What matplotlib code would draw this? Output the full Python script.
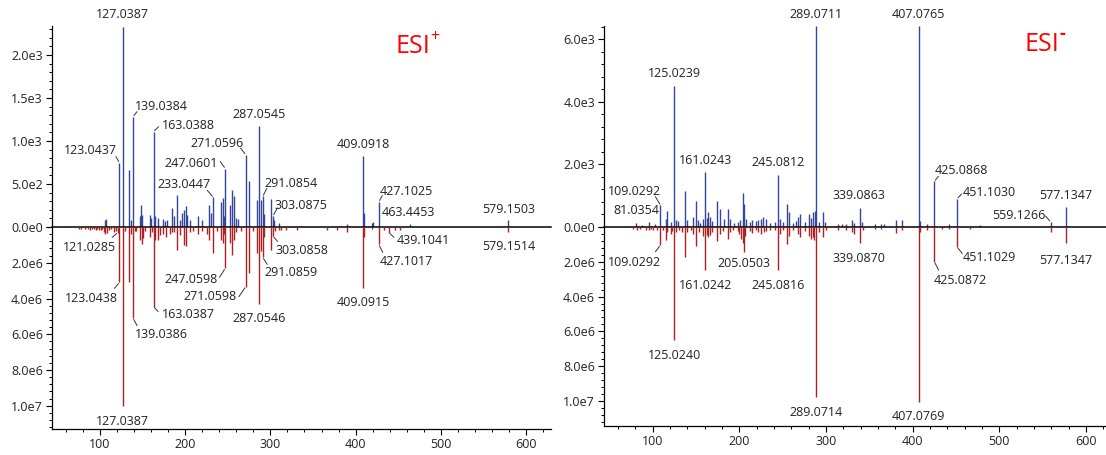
import numpy as np
import matplotlib
matplotlib.use("Agg")
import matplotlib.pyplot as plt
from matplotlib.ticker import MultipleLocator, FuncFormatter

plt.rcParams['font.family'] = ['Open Sans', 'DejaVu Sans']

# ---- ESI+ : sample (up, blue) vs reference (down, red) ----
pos_up_mz = [106.0, 107.6, 123.0437, 127.0387, 134.0, 136.6, 139.0384, 146.7, 148.7, 149.9,
             158.4, 160.4, 163.0388, 165.0, 167.7, 173.9, 176.6, 178.6, 185.2, 187.6,
             190.3, 194.2, 196.2, 198.9, 200.9, 202.1, 205.2, 214.6, 219.7, 227.5,
             229.9, 233.0447, 241.9, 245.0, 246.0, 247.0601, 253.1, 255.4, 257.4, 260.1,
             262.0, 271.0596, 275.1, 284.2, 287.0545, 288.7, 291.0854, 292.1, 301.1, 303.0875,
             304.1, 309.6, 389.7, 409.0918, 410.09, 418.8, 420.2, 427.1025, 463.4453, 579.1503]
pos_up_int = [80, 95, 748, 2330, 665, 85, 1283, 124, 260, 143,
              143, 105, 1108, 124, 105, 93, 66, 85, 221, 124,
              376, 85, 163, 201, 248, 143, 85, 132, 85, 260,
              163, 345, 287, 337, 124, 680, 260, 426, 357, 105,
              90, 840, 530, 310, 1178, 318, 355, 150, 330, 130,
              80, 47, 35, 826, 163, 47, 62, 294, 31, 81]

pos_dn_mz = [76.0, 78.0, 83.0, 86.0, 89.0, 91.0, 93.0, 95.0, 97.0, 99.0,
             101.0, 103.0, 105.0, 106.5, 108.0, 111.0, 113.0, 116.2, 119.0, 121.0285,
             123.0438, 127.0387, 129.0, 134.0, 136.6, 139.0386, 141.0, 143.0, 147.0, 149.1,
             150.6, 153.0, 158.4, 161.0, 163.0387, 165.0, 167.7, 170.5, 173.9, 177.6,
             182.0, 185.2, 187.6, 190.3, 194.2, 198.9, 201.3, 205.2, 209.0, 214.6,
             219.7, 225.5, 227.5, 233.0, 237.0, 241.9, 245.0, 246.0, 247.0598, 253.1,
             255.4, 257.4, 260.1, 265.0, 271.0598, 275.1, 280.0, 284.2, 287.0546, 288.7,
             291.0859, 292.1, 300.5, 303.0858, 305.0, 309.6, 313.0, 318.0, 331.0, 366.5,
             378.0, 389.7, 409.0915, 410.09, 418.8, 427.1017, 433.4, 439.1041, 446.3, 452.3,
             579.1514]
pos_dn_int = [1.1e5, 0.9e5, 1.3e5, 1.1e5, 1.5e5, 1.1e5, 1.3e5, 1.7e5, 1.1e5, 1.9e5,
              1.5e5, 1.3e5, 2.8e5, 3.8e5, 3.5e5, 1.7e5, 1.3e5, 2.8e5, 2.0e5, 3.2e5,
              3.1e6, 1.0e7, 2.5e5, 3.05e6, 3.75e5, 5.1e6, 2.0e5, 2.5e5, 7.0e5, 9.5e5,
              6.0e5, 2.5e5, 5.6e5, 3.0e5, 4.45e6, 7.5e5, 7.1e5, 4.7e5, 3.75e5, 5.6e5,
              3.75e5, 3.0e5, 2.8e5, 1.28e6, 4.7e5, 1.0e6, 1.09e6, 2.8e5, 2.0e5, 4.1e5,
              2.5e5, 3.75e5, 7.5e5, 1.46e6, 2.5e5, 7.1e5, 9.0e5, 3.75e5, 2.31e6, 9.0e5,
              1.55e6, 7.1e5, 2.8e5, 2.0e5, 3.34e6, 2.55e6, 2.0e5, 1.46e6, 4.3e6, 1.37e6,
              1.7e6, 5.6e5, 1.3e6, 5.0e5, 2.0e5, 1.9e5, 1.9e5, 1.5e5, 1.5e5, 1.9e5,
              1.5e5, 2.8e5, 3.42e6, 5.5e5, 1.3e5, 9.75e5, 1.9e5, 3.2e5, 1.5e5, 1.5e5,
              3.0e5]

pos_up_labels = [127.0387, 139.0384, 163.0388, 123.0437, 287.0545, 271.0596, 247.0601,
                 233.0447, 409.0918, 291.0854, 303.0875, 427.1025, 463.4453, 579.1503]
pos_dn_labels = [121.0285, 123.0438, 127.0387, 139.0386, 163.0387, 247.0598, 271.0598,
                 287.0546, 291.0859, 303.0858, 409.0915, 439.1041, 427.1017, 579.1514]

# ---- ESI- ----
neg_up_mz = [81.0354, 88.0, 96.0, 103.0, 109.0292, 115.2, 117.0, 121.0, 125.0239, 126.9,
             129.0, 137.0, 139.5, 146.9, 150.0, 152.4, 155.0, 157.7, 161.0243, 162.5,
             164.2, 166.0, 169.0, 174.0, 177.7, 182.0, 186.5, 189.0, 194.0, 198.5,
             201.0, 203.8, 205.0, 207.5, 212.0, 215.0, 219.0, 222.0, 225.0, 227.5,
             230.4, 235.0, 241.0, 245.0812, 247.5, 251.0, 255.0, 257.0, 262.0, 265.0,
             267.9, 270.5, 276.0, 280.0, 282.5, 284.5, 287.0, 289.0711, 292.0, 297.0,
             299.0, 314.0, 318.0, 323.0, 330.0, 332.0, 339.0863, 341.0, 357.0, 363.0,
             367.0, 380.8, 387.7, 407.0765, 409.0, 417.0, 425.0868, 442.0, 451.1030, 478.0,
             559.1266, 577.1347]
neg_up_int = [120, 60, 160, 80, 700, 270, 516, 150, 4520, 215,
              190, 1140, 215, 323, 820, 215, 130, 270, 1750, 300,
              484, 320, 200, 820, 590, 270, 590, 270, 120, 160,
              215, 1097, 750, 250, 160, 215, 180, 215, 270, 320,
              270, 120, 160, 1670, 270, 150, 720, 484, 120, 200,
              323, 430, 160, 430, 300, 484, 516, 6420, 150, 470,
              160, 100, 100, 80, 215, 120, 620, 160, 100, 90,
              110, 215, 215, 6415, 180, 100, 1460, 90, 900, 60,
              160, 630]

neg_dn_mz = [78.0, 82.0, 86.0, 92.0, 95.8, 98.0, 101.0, 105.0, 109.0292, 112.0,
             115.2, 117.0, 121.0, 123.0, 125.0240, 127.0, 130.0, 134.0, 137.3, 140.0,
             144.0, 147.0, 150.5, 153.0, 157.7, 161.0242, 162.5, 164.2, 166.0, 168.5,
             174.0, 177.7, 181.0, 186.5, 189.0, 193.0, 198.5, 200.0, 202.0, 203.8,
             205.0503, 207.0, 212.0, 215.0, 219.0, 222.0, 225.0, 228.0, 231.0, 235.0,
             241.0, 245.0816, 247.5, 251.0, 255.0, 257.0, 262.0, 267.9, 270.5, 276.0,
             280.0, 282.5, 285.0, 286.5, 289.0714, 292.0, 297.0, 300.0, 314.0, 323.0,
             330.0, 332.0, 339.0870, 343.0, 357.0, 363.0, 380.8, 387.7, 407.0769, 409.0,
             417.0, 425.0872, 433.8, 442.0, 451.1029, 466.0, 559.1, 577.1347]
neg_dn_int = [1.2e5, 1.5e5, 1.0e5, 1.9e5, 1.9e5, 1.2e5, 1.5e5, 2.0e5, 1.04e6, 2.0e5,
              7.7e5, 2.9e5, 3.85e5, 2.5e5, 6.5e6, 3.0e5, 2.0e5, 3.0e5, 1.7e6, 3.0e5,
              2.0e5, 4.0e5, 1.08e6, 3.0e5, 5.0e5, 2.5e6, 4.8e5, 6.0e5, 4.8e5, 3.0e5,
              7.9e5, 4.0e5, 2.5e5, 6.75e5, 3.0e5, 2.0e5, 2.5e5, 4.0e5, 7.0e5, 9.0e5,
              1.45e6, 5.0e5, 2.5e5, 3.5e5, 2.0e5, 3.0e5, 4.0e5, 3.0e5, 2.5e5, 1.5e5,
              2.0e5, 2.45e6, 4.0e5, 2.0e5, 9.5e5, 5.0e5, 2.0e5, 4.0e5, 6.0e5, 2.5e5,
              5.0e5, 7.0e5, 6.0e5, 7.5e5, 9.8e6, 3.0e5, 6.0e5, 2.0e5, 1.5e5, 1.5e5,
              2.9e5, 4.0e5, 9.4e5, 1.5e5, 1.2e5, 1.2e5, 3.65e5, 2.0e5, 1.005e7, 3.0e5,
              1.5e5, 2.0e6, 1.2e5, 1.2e5, 1.14e6, 1.0e5, 2.7e5, 9.45e5]

neg_up_labels = [289.0711, 407.0765, 125.0239, 161.0243, 245.0812, 109.0292, 81.0354,
                 339.0863, 425.0868, 451.1030, 577.1347, 559.1266]
neg_dn_labels = [109.0292, 125.0240, 161.0242, 205.0503, 245.0816, 289.0714, 339.0870,
                 407.0769, 425.0872, 451.1029, 577.1347]

# label placement in pixels relative to the peak tip: (dx, dy, leader end or None)
LABEL_POS = {
    ('pos', 'up'): {127.0387: (0, -12, None), 139.0384: (28, -10, (4, -5)),
                    163.0388: (35, -6, (5, -5)), 123.0437: (-29, -12, (-3.5, -6)),
                    287.0545: (0, -11, None), 271.0596: (-29, -11.5, (-5, -6.5)),
                    247.0601: (-34.5, -5, (-5, -7)), 233.0447: (-29, -13, (-6, -7)),
                    409.0918: (0, -11, None), 291.0854: (28, -13, (4, -8)),
                    303.0875: (28.3, -10, (4.5, -8)), 427.1025: (27.5, -10.7, (3.5, -6)),
                    463.4453: (-1, -12, None), 579.1503: (0, -11, None)},
    ('pos', 'dn'): {121.0285: (-28.3, 15, (-5.5, 4.6)), 123.0438: (-28.3, 16.3, (-5, 6)),
                    127.0387: (0, 15.5, None), 139.0386: (28, 16.5, (4, 7.5)),
                    163.0387: (35, 8, (4.6, 5)), 247.0598: (-34.5, 11, (-5.7, 9)),
                    271.0598: (-35.2, 9.7, (-6.8, 10)), 287.0546: (0, 15, None),
                    291.0859: (28, 15.5, (4.5, 7)), 303.0858: (29, 15, (4.5, 5.5)),
                    409.0915: (0, 14, None), 439.1041: (34.4, 8, (5, 4.6)),
                    427.1017: (27.5, 16.7, (4, 8)), 579.1514: (0, 14.4, None)},
    ('neg', 'up'): {289.0711: (0, -12, None), 407.0765: (0, -12, None),
                    125.0239: (0, -12, None), 161.0243: (0, -12, None),
                    245.0812: (0, -12, None), 109.0292: (-26.3, -13.6, (-5, -8.6)),
                    81.0354: (0, -12.6, None), 339.0863: (-1, -12, None),
                    425.0868: (26.5, -11, (4, -5)), 451.1030: (32, -6, (4.6, -4.8)),
                    577.1347: (0, -11.5, None), 559.1266: (-31.6, -6.3, (-5, -6))},
    ('neg', 'dn'): {109.0292: (-26.3, 17.7, (-5, 6.7)), 125.0240: (0, 15.5, None),
                    161.0242: (0, 15.4, None), 205.0503: (0, 11.5, None),
                    245.0816: (0, 16, None), 289.0714: (0, 15, None),
                    339.0870: (-1, 15, None), 407.0769: (0, 15, None),
                    425.0872: (26, 18.4, (4.2, 8.3)), 451.1029: (32, 10.6, (5.3, 6.6)),
                    577.1347: (0, 16.7, None)},
}

BLUE = '#34469a'
RED = '#b01f22'
TXT = '#222222'
PT = 0.72  # points per pixel at 100 dpi


def sci(v, pos):
    if abs(v) < 1e-9:
        return '0.0e0'
    e = int(np.floor(np.log10(abs(v)) + 1e-9))
    return f'{v / 10 ** e:.1f}e{e}'


def sci_nozero(v, pos):
    return '' if abs(v) < 1e-9 else sci(v, pos)


def style(ax):
    ax.patch.set_visible(False)
    for s in ('top', 'right'):
        ax.spines[s].set_visible(False)
    ax.spines['left'].set_linewidth(0.9)
    ax.spines['bottom'].set_linewidth(0.9)
    ax.tick_params(axis='both', which='major', direction='out', length=4.5, width=0.8,
                   labelsize=9, labelcolor=TXT, pad=2)
    ax.tick_params(axis='both', which='minor', direction='out', length=2.5, width=0.7)


def label_peaks(ax, mzs, ints, labels, pos):
    for m in labels:
        i = int(np.argmin(np.abs(np.asarray(mzs) - m)))
        dx, dy, lead = pos[m]
        ax.annotate(f'{m:.4f}', xy=(mzs[i], ints[i]), xytext=(dx * PT, -dy * PT),
                    textcoords='offset points', ha='center', va='center',
                    fontsize=9, color=TXT, annotation_clip=False)
        if lead is not None:
            ax.annotate('', xy=(mzs[i], ints[i]), xytext=(lead[0] * PT, -lead[1] * PT),
                        textcoords='offset points', annotation_clip=False,
                        arrowprops=dict(arrowstyle='-', color='#333333', lw=0.7,
                                        shrinkA=0, shrinkB=1))


def panel(fig, x0, w, bot_lo, bot_h, xlim, up, dn, up_top, up_step, up_minor,
          dn_bottom, key, tag, sup):
    W, H = 1106, 455
    ax_up = fig.add_axes([x0 / W, (H - 227) / H, w / W, 201 / H])
    ax_dn = fig.add_axes([x0 / W, bot_lo / H, w / W, bot_h / H], sharex=ax_up)

    ax_up.vlines(up[0], 0, up[1], color=BLUE, lw=1.0)
    ax_dn.vlines(dn[0], 0, dn[1], color=RED, lw=1.0)

    ax_up.set_xlim(*xlim)
    ax_up.set_ylim(0, up_top)
    ax_dn.set_ylim(dn_bottom, 0)

    for ax in (ax_up, ax_dn):
        style(ax)
    # zero line shared by both halves
    ax_up.spines['bottom'].set_color('black')
    ax_up.spines['bottom'].set_linewidth(1.1)
    ax_up.spines['bottom'].set_zorder(3)
    ax_up.tick_params(axis='x', which='both', bottom=False, labelbottom=False)
    ax_up.yaxis.set_major_locator(MultipleLocator(up_step))
    ax_up.yaxis.set_minor_locator(MultipleLocator(up_minor))
    ax_up.yaxis.set_major_formatter(FuncFormatter(sci))
    ax_dn.yaxis.set_major_locator(MultipleLocator(2e6))
    ax_dn.yaxis.set_minor_locator(MultipleLocator(4e5))
    ax_dn.yaxis.set_major_formatter(FuncFormatter(sci_nozero))
    ax_dn.xaxis.set_major_locator(MultipleLocator(100))
    ax_dn.xaxis.set_minor_locator(MultipleLocator(20))

    label_peaks(ax_up, up[0], up[1], up[2], LABEL_POS[(key, 'up')])
    label_peaks(ax_dn, dn[0], dn[1], dn[2], LABEL_POS[(key, 'dn')])

    ax_up.text(tag[0], tag[1], 'ESI', transform=ax_up.transAxes, color='red',
               fontsize=18, ha='left', va='baseline')
    ax_up.text(sup[1], sup[2], sup[0], transform=ax_up.transAxes, color='red',
               fontsize=sup[3], fontweight=sup[4], ha='center', va='baseline')
    return ax_up, ax_dn


fig = plt.figure(figsize=(11.06, 4.55), dpi=100)

panel(fig, 52, 499, 455 - 429, 202, (44, 629),
      (pos_up_mz, pos_up_int, pos_up_labels), (pos_dn_mz, pos_dn_int, pos_dn_labels),
      2337, 500, 100, 1.13e7, 'pos', (0.689, 0.868),
      ('+', 0.768, 0.924, 11.5, 'normal'))

panel(fig, 604, 502, 455 - 426, 199, (44, 623),
      (neg_up_mz, neg_up_int, neg_up_labels), (neg_dn_mz, neg_dn_int, neg_dn_labels),
      6430, 2000, 400, 1.144e7, 'neg', (0.838, 0.874),
      ('-', 0.913, 0.936, 13, 'bold'))

fig.savefig('out.png', dpi=100)
